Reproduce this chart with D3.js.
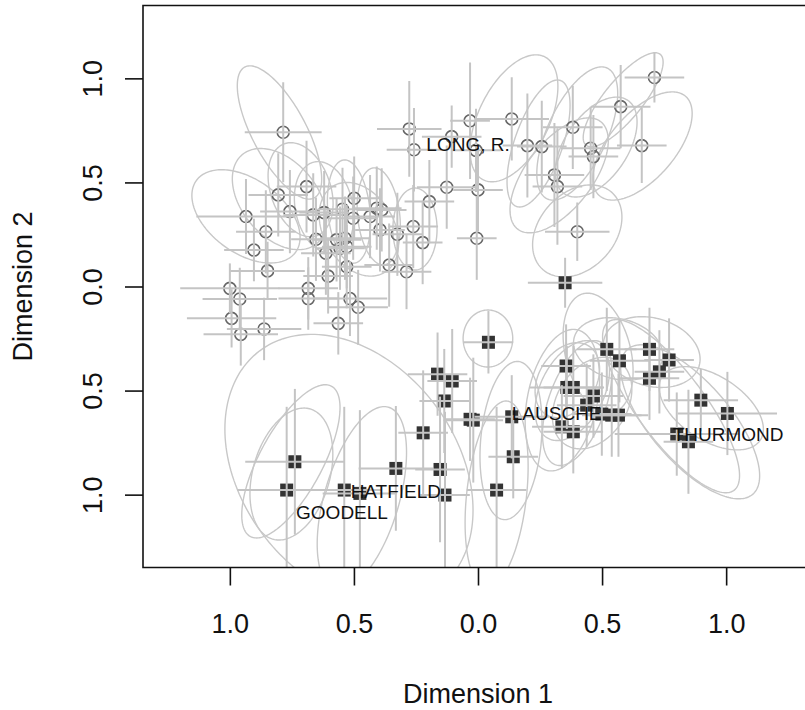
<!DOCTYPE html>
<html><head><meta charset="utf-8">
<script src="https://cdn.jsdelivr.net/npm/d3@7"></script>
<style>body{margin:0;background:#fff}svg{display:block;font-family:"Liberation Sans",Arial,Helvetica,sans-serif}</style>
</head><body>
<script>
// ---- data (Dimension 1, Dimension 2) ----
const circleX = [-0.785,-0.277,-0.258,-0.106,-0.032,0.136,-0.008,0.199,0.257,0.382,0.454,0.465,0.660,0.575,0.711,0.308,0.320,0.400,-0.126,0.000,-0.005,-0.196,-0.691,-0.805,-0.758,-0.935,-0.855,-0.903,-0.848,-1.000,-0.960,-0.684,-0.684,-0.516,-0.664,-0.620,-0.546,-0.499,-0.408,-0.435,-0.388,-0.395,-0.503,-0.653,-0.570,-0.536,-0.556,-0.529,-0.613,-0.529,-0.604,-0.358,-0.288,-0.325,-0.261,-0.223,-0.993,-0.956,-0.862,-0.483,-0.563];
const circleY = [0.741,0.757,0.657,0.720,0.796,0.805,0.654,0.677,0.672,0.765,0.664,0.624,0.677,0.864,1.004,0.536,0.480,0.263,0.477,0.464,0.232,0.408,0.480,0.440,0.360,0.336,0.263,0.175,0.075,-0.009,-0.060,-0.009,-0.058,-0.058,0.344,0.355,0.371,0.424,0.376,0.336,0.368,0.272,0.328,0.227,0.224,0.232,0.184,0.191,0.160,0.095,0.050,0.103,0.071,0.251,0.288,0.211,-0.153,-0.230,-0.204,-0.100,-0.177];
const circleErrX = [0.155,0.13,0.11,0.12,0.08,0.15,0.10,0.10,0.10,0.12,0.12,0.10,0.10,0.12,0.12,0.12,0.10,0.13,0.12,0.10,0.08,0.10,0.12,0.12,0.12,0.20,0.12,0.12,0.15,0.20,0.15,0.12,0.12,0.15,0.12,0.10,0.10,0.10,0.10,0.10,0.10,0.10,0.10,0.10,0.10,0.10,0.10,0.10,0.10,0.10,0.10,0.10,0.10,0.10,0.10,0.08,0.18,0.15,0.15,0.12,0.10];
const circleErrY = [0.24,0.23,0.20,0.15,0.28,0.20,0.20,0.25,0.22,0.20,0.20,0.20,0.18,0.20,0.12,0.25,0.28,0.14,0.20,0.20,0.20,0.20,0.22,0.20,0.20,0.18,0.20,0.15,0.14,0.12,0.15,0.15,0.15,0.18,0.20,0.20,0.20,0.20,0.20,0.20,0.20,0.20,0.20,0.20,0.20,0.20,0.20,0.20,0.20,0.20,0.18,0.20,0.18,0.20,0.20,0.20,0.14,0.15,0.15,0.18,0.15];

const squareX = [0.351,0.042,-0.163,-0.104,-0.136,-0.032,-0.221,-0.738,-0.771,-0.331,-0.153,-0.539,-0.476,-0.133,0.355,0.519,0.570,0.691,0.770,0.731,0.691,0.358,0.384,0.465,0.438,0.898,1.005,0.136,-0.019,0.499,0.539,0.566,0.338,0.384,0.801,0.848,0.142,0.075];
const squareY = [0.018,-0.268,-0.421,-0.454,-0.550,-0.638,-0.703,-0.842,-0.978,-0.874,-0.879,-0.978,-0.994,-1.002,-0.382,-0.302,-0.357,-0.302,-0.353,-0.410,-0.441,-0.485,-0.485,-0.526,-0.570,-0.546,-0.610,-0.626,-0.642,-0.613,-0.618,-0.618,-0.674,-0.698,-0.709,-0.746,-0.818,-0.978];
const squareErrX = [0.15,0.10,0.12,0.10,0.10,0.10,0.10,0.20,0.20,0.15,0.10,0.15,0.15,0.10,0.10,0.12,0.12,0.10,0.10,0.10,0.12,0.15,0.12,0.12,0.12,0.15,0.20,0.15,0.12,0.12,0.12,0.12,0.12,0.12,0.25,0.10,0.10,0.12];
const squareErrY = [0.12,0.15,0.20,0.25,0.25,0.20,0.30,0.35,0.40,0.30,0.35,0.40,0.40,0.40,0.20,0.20,0.20,0.20,0.20,0.20,0.20,0.20,0.20,0.20,0.20,0.15,0.20,0.20,0.30,0.20,0.20,0.20,0.20,0.20,0.20,0.25,0.20,0.40];

// ellipses: centre, half-width (x), half-height (y), correlation
const ellCX  = [-0.80,-0.935,-0.80,-0.715,-0.52,-0.40,-0.254,0.585,0.663,0.145,0.244,0.40,0.327,0.40,0.476,-0.62,-0.48, -0.52,-0.754,-0.752,-0.468,0.04,0.133,0.075,0.34,0.38,0.46,0.484,0.565,0.70,0.778,0.855,0.94,0.40,0.36];
const ellCY  = [0.74,0.337,0.42,0.465,0.36,0.337,0.276,0.897,0.675,0.808,0.687,0.735,0.534,0.267,0.67,0.38,0.275, -0.88,-0.84,-0.901,-1.017,-0.25,-0.74,-1.0,-0.546,-0.50,-0.56,-0.32,-0.30,-0.315,-0.575,-0.65,-0.585,-0.56,-0.45];
const ellRX  = [0.17,0.218,0.19,0.131,0.087,0.087,0.089,0.161,0.20,0.177,0.127,0.163,0.198,0.18,0.165,0.12,0.16, 0.50,0.198,0.167,0.18,0.10,0.125,0.127,0.15,0.15,0.16,0.141,0.18,0.195,0.276,0.28,0.21,0.14,0.13];
const ellRY  = [0.32,0.224,0.243,0.226,0.248,0.233,0.197,0.226,0.26,0.305,0.305,0.32,0.276,0.221,0.24,0.22,0.225, 0.65,0.368,0.317,0.44,0.137,0.38,0.45,0.34,0.24,0.22,0.288,0.15,0.17,0.416,0.37,0.20,0.30,0.18];
const ellRho = [-0.7,-0.45,-0.4,-0.3,-0.2,-0.2,0,0.8,0.6,0.5,0.6,0.6,0.6,0.3,0.5,-0.2,-0.3, -0.3,0.7,0.3,0.5,0,0.2,0.3,0.3,0.4,0.3,-0.3,-0.2,-0.2,-0.8,-0.7,-0.5,0.5,0.3];

const labelNames = ["LONG, R.","HATFIELD","GOODELL","LAUSCHE","THURMOND"];
const labelX = [-0.04,-0.331,-0.548,0.317,1.008];
const labelY = [0.682,-0.983,-1.084,-0.608,-0.712];

const tickValues = [-1,-0.5,0,0.5,1];
const tickLabels = ["1.0","0.5","0.0","0.5","1.0"];

// ---- drawing ----
const W = 805, H = 710;
const svg = d3.select("body").append("svg").attr("width", W).attr("height", H);
const x = d3.scaleLinear().domain([-1.35, 1.35]).range([143, 813]);
const y = d3.scaleLinear().domain([-1.35, 1.35]).range([567.5, 5.5]);

svg.append("clipPath").attr("id","plotclip").append("rect")
  .attr("x", x(-1.35)).attr("y", y(1.35)).attr("width", x(1.35)-x(-1.35)).attr("height", y(-1.35)-y(1.35));
const plot = svg.append("g").attr("clip-path","url(#plotclip)");

// ellipses
const ell = d3.range(ellCX.length).map(i => {
  const r = ellRho[i];
  return d3.range(0, 181).map(k => {
    const t = k / 180 * 2 * Math.PI;
    return [ellCX[i] + ellRX[i]*Math.cos(t),
            ellCY[i] + ellRY[i]*(r*Math.cos(t) + Math.sqrt(1-r*r)*Math.sin(t))];
  });
});
const line = d3.line().x(d => x(d[0])).y(d => y(d[1])).curve(d3.curveLinearClosed);
plot.append("g").selectAll("path").data(ell).join("path")
  .attr("d", line).attr("fill","none").attr("stroke","#c8c8c8").attr("stroke-width",1.4);

const circles = circleX.map((v,i)=>({x:v,y:circleY[i],ex:circleErrX[i],ey:circleErrY[i]}));
const squares = squareX.map((v,i)=>({x:v,y:squareY[i],ex:squareErrX[i],ey:squareErrY[i]}));

// points
plot.append("g").selectAll("rect").data(squares).join("rect")
  .attr("x", d => x(d.x)-6.5).attr("y", d => y(d.y)-6.5)
  .attr("width",13).attr("height",13).attr("fill","#333");
plot.append("g").selectAll("circle").data(circles).join("circle")
  .attr("cx", d => x(d.x)).attr("cy", d => y(d.y)).attr("r",6)
  .attr("fill","none").attr("stroke","#666").attr("stroke-width",1.6);

// error bars
const all = circles.concat(squares);
const eb = plot.append("g").attr("stroke","#c4c4c4").attr("stroke-width",2);
eb.selectAll("line.h").data(all).join("line").attr("class","h")
  .attr("x1", d=>x(d.x-d.ex)).attr("x2", d=>x(d.x+d.ex)).attr("y1", d=>y(d.y)).attr("y2", d=>y(d.y));
eb.selectAll("line.v").data(all).join("line").attr("class","v")
  .attr("x1", d=>x(d.x)).attr("x2", d=>x(d.x)).attr("y1", d=>y(d.y-d.ey)).attr("y2", d=>y(d.y+d.ey));

// labels
svg.append("g").selectAll("text").data(labelNames).join("text")
  .attr("x",(d,i)=>x(labelX[i])).attr("y",(d,i)=>y(labelY[i]))
  .attr("text-anchor","middle").attr("dominant-baseline","central")
  .attr("font-size",19).attr("fill","#111").text(d=>d);

// box
svg.append("path")
  .attr("d", `M${x(1.35)},${y(1.35)}H${x(-1.35)}V${y(-1.35)}H${x(1.35)}Z`)
  .attr("fill","none").attr("stroke","#111").attr("stroke-width",1.6);

// axes
const xa = svg.append("g").attr("transform",`translate(0,${y(-1.35)})`)
  .call(d3.axisBottom(x).tickValues(tickValues).tickSize(18).tickFormat((d,i)=>tickLabels[i]));
xa.select(".domain").remove();
xa.selectAll("line").attr("stroke","#111").attr("stroke-width",1.6);
xa.selectAll("text").attr("y",65.5).attr("dy",null).attr("font-size",27)
  .attr("font-family","Liberation Sans, Arial, sans-serif").attr("fill","#111");

const ya = svg.append("g").attr("transform",`translate(${x(-1.35)},0)`)
  .call(d3.axisLeft(y).tickValues(tickValues).tickSize(18).tickFormat((d,i)=>tickLabels[i]));
ya.select(".domain").remove();
ya.selectAll("line").attr("stroke","#111").attr("stroke-width",1.6);
ya.selectAll("text").attr("x",null).attr("dy",null)
  .attr("transform","translate(-41,0) rotate(-90)")
  .attr("text-anchor","middle").attr("font-size",27)
  .attr("font-family","Liberation Sans, Arial, sans-serif").attr("fill","#111");

svg.append("text").attr("x", x(0)).attr("y", 703).attr("text-anchor","middle")
  .attr("font-size",27).attr("fill","#111").text("Dimension 1");
svg.append("text").attr("transform",`translate(32,${y(0)}) rotate(-90)`).attr("text-anchor","middle")
  .attr("font-size",27).attr("fill","#111").text("Dimension 2");
</script>
</body></html>
